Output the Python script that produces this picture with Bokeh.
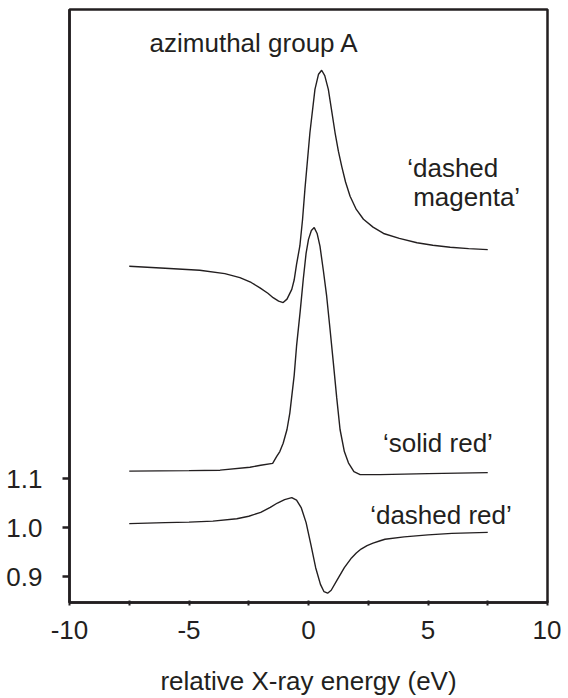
from bokeh.plotting import figure
from bokeh.models import Range1d, FixedTicker, PrintfTickFormatter, ColumnDataSource
from bokeh.core.properties import value
from bokeh.embed import file_html
from bokeh.resources import INLINE

# ---- data ----
dashed_red_x = [-7.5, -6, -5, -4, -3, -2.5, -2, -1.6, -1.3, -1.0, -0.7, -0.5, -0.3, -0.1,
                0.1, 0.3, 0.5, 0.65, 0.8, 0.95, 1.2, 1.5, 1.8, 2.0, 2.2, 2.45, 2.7, 3.0, 3.2,
                4, 5, 6, 7.5]
dashed_red_y = [1.008, 1.010, 1.011, 1.013, 1.018, 1.023, 1.031, 1.041, 1.050, 1.057, 1.061,
                1.056, 1.040, 1.010, 0.965, 0.918, 0.884, 0.869, 0.866, 0.872, 0.893, 0.918,
                0.938, 0.948, 0.956, 0.963, 0.968, 0.973, 0.976, 0.981, 0.985, 0.988, 0.990]

solid_red_x = [-7.5, -5, -3.7, -2.45, -2.0, -1.5, -1.33, -1.2, -1.06, -0.9, -0.78, -0.6, -0.5,
               -0.35, -0.22, -0.1, 0.0, 0.12, 0.24, 0.36, 0.48, 0.62, 0.76, 0.9, 1.04, 1.18,
               1.32, 1.5, 1.67, 1.9, 2.16, 3, 5, 7.5]
solid_red_y = [1.115, 1.116, 1.117, 1.123, 1.127, 1.131, 1.145, 1.155, 1.172, 1.200, 1.234,
               1.310, 1.370, 1.440, 1.506, 1.560, 1.588, 1.606, 1.612, 1.600, 1.574, 1.525,
               1.472, 1.405, 1.336, 1.265, 1.200, 1.155, 1.132, 1.114, 1.108, 1.108, 1.110, 1.112]

magenta_x = [-7.5, -6, -4.55, -3.5, -2.87, -2.4, -2.03, -1.7, -1.48, -1.25, -1.06, -0.9, -0.7,
             -0.6, -0.5, -0.36, -0.25, -0.15, 0.06, 0.27, 0.42, 0.55, 0.68, 0.83, 0.97, 1.11,
             1.25, 1.39, 1.55, 1.74, 2.0, 2.3, 2.7, 3.14, 3.8, 4.54, 5.2, 5.93, 6.7, 7.5]
magenta_y = [1.533, 1.529, 1.525, 1.518, 1.510, 1.500, 1.489, 1.478, 1.469, 1.462, 1.459, 1.466,
             1.486, 1.505, 1.537, 1.575, 1.628, 1.690, 1.806, 1.894, 1.925, 1.933, 1.922, 1.894,
             1.850, 1.806, 1.768, 1.737, 1.705, 1.676, 1.649, 1.629, 1.613, 1.600, 1.590, 1.581,
             1.576, 1.572, 1.569, 1.567]

label_text = ["azimuthal group A", "\u2018dashed", "magenta\u2019", "\u2018solid red\u2019", "\u2018dashed red\u2019"]
label_x = [-6.65, 4.13, 4.38, 3.12, 2.58]
label_y = [1.989, 1.733, 1.675, 1.172, 1.025]

x_title = "relative X-ray energy (eV)"
x_ticks = [-10, -5, 0, 5, 10]
x_minor_ticks = [-7.5, -2.5, 2.5, 7.5]
y_ticks = [0.9, 1.0, 1.1]

INK = "#231f20"
FONT = "Liberation Sans"
FS = "26px"

p = figure(width=561, height=698, output_backend="svg", toolbar_location=None,
           x_range=Range1d(-10, 10), y_range=Range1d(0.847, 2.057),
           min_border_left=69, min_border_right=14, min_border_top=9, min_border_bottom=95)
p.background_fill_color = "white"
p.border_fill_color = "white"
p.grid.visible = False
p.outline_line_color = INK
p.outline_line_width = 2.5

for xs, ys in [(dashed_red_x, dashed_red_y), (solid_red_x, solid_red_y), (magenta_x, magenta_y)]:
    p.line(xs, ys, line_color=INK, line_width=1.4)

src = ColumnDataSource(dict(x=label_x, y=label_y, t=label_text))
p.text(x="x", y="y", text="t", source=src, text_font=value(FONT), text_font_size=value(FS),
       text_color=INK, text_align="left", text_baseline="alphabetic")

xa = p.xaxis[0]
xa.ticker = FixedTicker(ticks=x_ticks, minor_ticks=x_minor_ticks)
xa.formatter = PrintfTickFormatter(format="%d")
xa.axis_line_color = INK
xa.axis_line_width = 2.5
xa.major_tick_line_color = INK
xa.minor_tick_line_color = INK
xa.major_tick_line_width = 2
xa.minor_tick_line_width = 2
xa.major_tick_in = 2
xa.major_tick_out = 3
xa.minor_tick_in = 2
xa.minor_tick_out = 3
xa.major_label_standoff = 15
xa.major_label_text_font = FONT
xa.major_label_text_font_size = FS
xa.major_label_text_color = INK
xa.axis_label = x_title
xa.axis_label_text_font = FONT
xa.axis_label_text_font_size = FS
xa.axis_label_text_font_style = "normal"
xa.axis_label_text_color = INK
xa.axis_label_standoff = 24

ya = p.yaxis[0]
ya.ticker = FixedTicker(ticks=y_ticks, minor_ticks=[])
ya.formatter = PrintfTickFormatter(format="%.1f")
ya.axis_line_color = INK
ya.axis_line_width = 2.5
ya.major_tick_line_color = INK
ya.major_tick_line_width = 2.5
ya.major_tick_in = 0
ya.major_tick_out = 7
ya.minor_tick_line_color = None
ya.major_label_standoff = 20
ya.major_label_text_font = FONT
ya.major_label_text_font_size = FS
ya.major_label_text_color = INK

open("out.html", "w").write(file_html(p, INLINE))
